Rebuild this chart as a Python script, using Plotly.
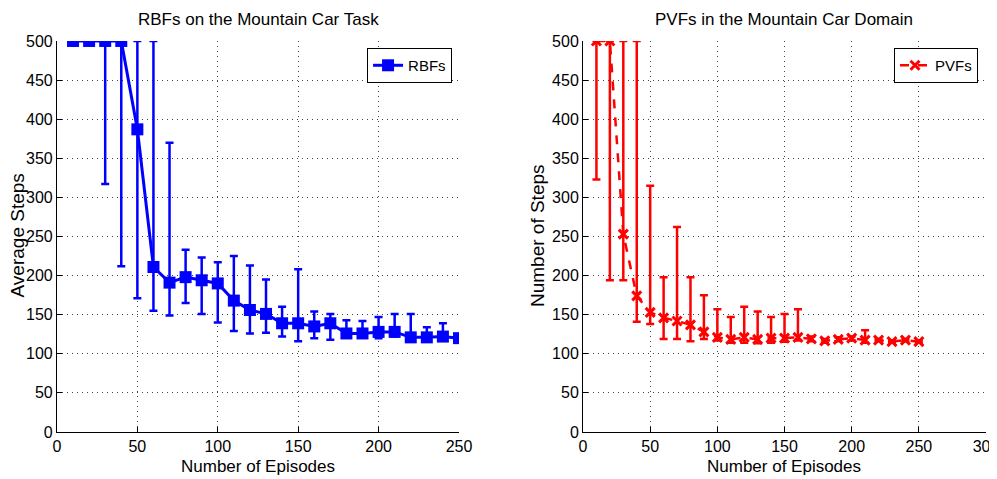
import plotly.graph_objects as go

episodes = [10, 20, 30, 40, 50, 60, 70, 80, 90, 100, 110, 120, 130, 140, 150, 160, 170, 180, 190, 200, 210, 220, 230, 240, 250]

rbf_mean = [500, 500, 500, 500, 387, 211, 191, 198, 194, 190, 168, 156, 151, 139, 139, 135, 139, 126, 126, 128, 128, 121, 121, 122, 120]
rbf_upper = [500, 500, 500, 500, 500, 500, 370, 233, 223, 217, 225, 213, 195, 160, 208, 154, 151, 143, 142, 147, 151, 151, 134, 139, 120]
rbf_lower = [500, 500, 317, 212, 171, 155, 149, 165, 151, 140, 129, 126, 127, 122, 116, 120, 118, 122, 122, 120, 122, 118, 118, 118, 120]

pvf_mean = [500, 500, 253, 174, 153, 146, 142, 137, 128, 121, 118.5, 121, 118.5, 120, 120, 121, 119, 116.5, 118.5, 120, 117.5, 117.5, 115.5, 117.5, 115.5]
pvf_upper = [500, 500, 500, 500, 315, 198, 262, 198, 175, 157, 147, 160, 154, 147, 151, 157, 122, 119, 121, 122, 130, 119, 117, 119, 117]
pvf_lower = [323, 194, 194, 141, 138, 119, 119, 116, 119, 117, 114, 114, 113.5, 114, 115.5, 117, 116, 114, 116, 117, 114, 116, 114, 116, 114]

x_ticks_left = [0, 50, 100, 150, 200, 250]
x_ticks_right = [0, 50, 100, 150, 200, 250, 300]
y_ticks = [0, 50, 100, 150, 200, 250, 300, 350, 400, 450, 500]

# the page body has an 8px margin, so the figure is a bit smaller than the window
FONT = "Liberation Sans, Arial, Helvetica, sans-serif"

fig = go.Figure()

fig.add_trace(go.Scatter(
        x=episodes,
        y=rbf_mean,
        mode='lines+markers',
        name='RBFs',
        line=dict(color='#0000ff', width=3),
        marker=dict(symbol='square', size=12, color='#0000ff'),
        error_y=dict(
            type='data',
            symmetric=False,
            array=[u - m for u, m in zip(rbf_upper, rbf_mean)],
            arrayminus=[m - l for m, l in zip(rbf_mean, rbf_lower)],
            color='#0000ff',
            thickness=2.5,
            width=4
        ),
        xaxis='x',
        yaxis='y',
        legend='legend'
    )
)

fig.add_trace(go.Scatter(
        x=episodes,
        y=pvf_mean,
        mode='lines+markers',
        name='PVFs',
        line=dict(color='#ff0000', width=2.5, dash='dash'),
        marker=dict(symbol='x-thin', size=9, color='#ff0000',
                    line=dict(color='#ff0000', width=3)),
        error_y=dict(
            type='data',
            symmetric=False,
            array=[u - m for u, m in zip(pvf_upper, pvf_mean)],
            arrayminus=[m - l for m, l in zip(pvf_mean, pvf_lower)],
            color='#ff0000',
            thickness=2.5,
            width=4
        ),
        xaxis='x2',
        yaxis='y2',
        legend='legend2'
    )
)

axis_common = dict(
    showline=True,
    linecolor='black',
    linewidth=1,
    ticks='inside',
    ticklen=5,
    tickcolor='black',
    showgrid=True,
    gridcolor='#444444',
    griddash='1px,4px',
    gridwidth=1,
    zeroline=False,
    automargin=False,
    ticklabeloverflow='allow',
    tickfont=dict(family=FONT, size=16, color='black'),
)

legend_common = dict(
    xanchor='right', yanchor='top',
    bordercolor='black', borderwidth=1, bgcolor='white',
    font=dict(family=FONT, size=15),
)

def label(text, x, y, angle=0, size=17, xanchor='center', xshift=0):
    return dict(text=text, x=x, y=y, xref='paper', yref='paper',
                xanchor=xanchor, yanchor='middle', textangle=angle, xshift=xshift,
                showarrow=False, font=dict(family=FONT, size=size, color='black'))

fig.update_layout(
    width=989,
    height=471,
    paper_bgcolor='white',
    plot_bgcolor='white',
    margin=dict(l=0, r=0, t=0, b=0),
    font=dict(family=FONT, color='black'),
    xaxis=dict(axis_common, domain=[0.0495, 0.456], range=[0, 250],
               tickvals=x_ticks_left),
    yaxis=dict(axis_common, domain=[0.0998, 0.930], range=[0, 500],
               tickvals=y_ticks),
    xaxis2=dict(axis_common, domain=[0.5814, 0.9889], range=[0, 300],
                tickvals=x_ticks_right, anchor='y2'),
    yaxis2=dict(axis_common, domain=[0.0998, 0.930], range=[0, 500],
                tickvals=y_ticks, anchor='x2'),
    legend=dict(legend_common, x=0.449, y=0.915),
    legend2=dict(legend_common, x=0.9808, y=0.915),
    showlegend=True,
    annotations=[
        label('RBFs on the Mountain Car Task', 0.2528, 0.9766),
        label('PVFs in the Mountain Car Domain', 0.7846, 0.9766),
        label('Number of Episodes', 0.2528, 0.0255),
        label('Number of Episodes', 0.7846, 0.0255),
        label('Average Steps', 0.0, 0.516, -90, size=19, xanchor='left', xshift=-3),
        label('Number of Steps', 0.538, 0.516, -90, size=19, xshift=-2),
    ]
)

fig.write_html("out.html")
